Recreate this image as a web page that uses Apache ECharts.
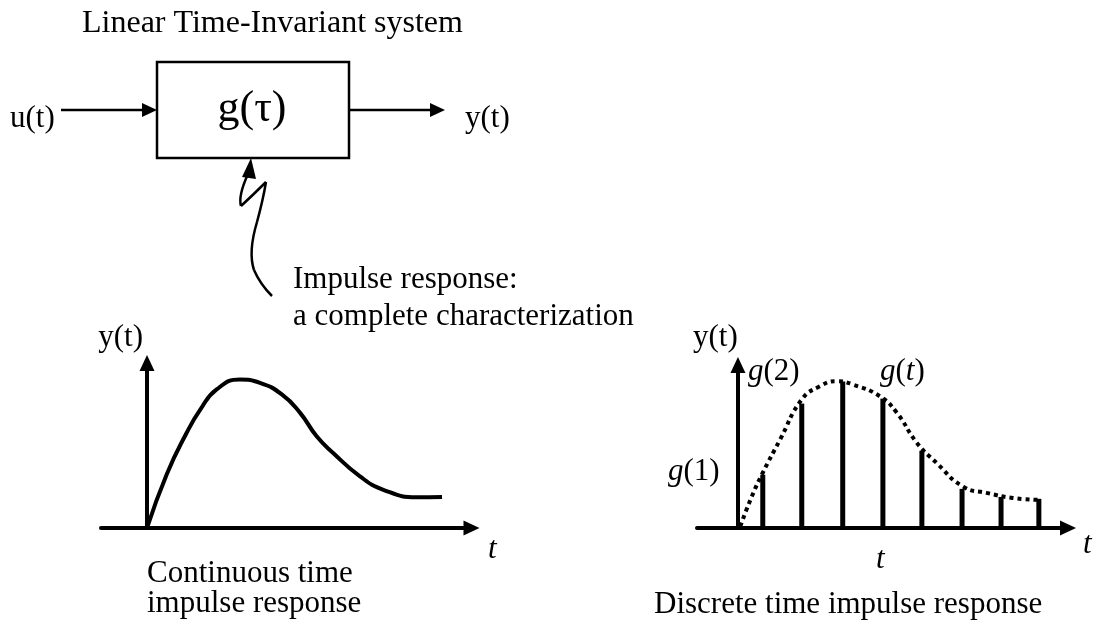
<!DOCTYPE html>
<html>
<head>
<meta charset="utf-8">
<script src="https://cdn.jsdelivr.net/npm/echarts@6/dist/echarts.min.js"></script>
<style>
html,body{margin:0;padding:0;background:#fff;}
#chart{width:1094px;height:628px;}
</style>
</head>
<body>
<div id="chart"></div>
<script>
// Continuous-time impulse response (t, y)
const contT = [0, 0.67, 1.34, 1.8, 2.36, 3.15, 3.83, 4.57, 5.19, 5.75, 6.31, 7.22, 8.01, 9.14, 10];
const contY = [0, 3.1, 5.47, 6.8, 7.98, 8.55, 8.36, 7.69, 6.63, 5.28, 4.32, 2.97, 2.2, 1.77, 1.79];
// Discrete-time impulse response stems
const stemT = [0.63, 1.62, 2.66, 3.68, 4.67, 5.69, 6.68, 7.64];
const stemY = [3.1, 7.25, 8.54, 7.54, 4.5, 2.28, 1.81, 1.7];
// Dotted envelope g(t)
const dotT = [0.06, 0.35, 0.63, 1.07, 1.62, 2.08, 2.5, 2.92, 3.6, 4.03, 4.54, 5.04, 5.71, 6.31, 6.98, 7.64];
const dotY = [0.1, 1.83, 3.22, 5.15, 7.49, 8.26, 8.56, 8.36, 7.68, 6.73, 4.97, 3.8, 2.42, 2.05, 1.75, 1.64];

const FONT = '"Liberation Serif", "Times New Roman", serif';
const BASE = 0.77; // baseline offset from top, in em
const contData = contT.map((t, i) => [t, contY[i]]);
const stemData = stemT.map((t, i) => [t, stemY[i]]);
const dotData = dotT.map((t, i) => [t, dotY[i]]);

function axisLine() {
  return {
    show: true, onZero: true,
    symbol: ['none', 'triangle'], symbolSize: [15, 16],
    lineStyle: { color: '#000', width: 4 }
  };
}
function hidden() {
  return { splitLine: { show: false }, axisTick: { show: false }, axisLabel: { show: false } };
}

// x, baseline y
function txt(x, b, text, size, extra) {
  return {
    type: 'text', x: x, y: b - BASE * size, z: 50,
    style: Object.assign({ text: text, font: size + 'px ' + FONT, fill: '#000', verticalAlign: 'top', align: 'left' }, extra || {})
  };
}
function richTxt(x, b, text) {
  const size = 31;
  return {
    type: 'text', x: x, y: b - BASE * size, z: 50,
    style: {
      text: text, fill: '#000', verticalAlign: 'top', align: 'left',
      font: size + 'px ' + FONT,
      rich: {
        i: { fontFamily: FONT, fontSize: size, fontStyle: 'italic' },
        n: { fontFamily: FONT, fontSize: size }
      }
    }
  };
}
function bez(x1, y1, cx, cy, x2, y2) {
  return { type: 'bezierCurve', shape: { x1: x1, y1: y1, cpx1: cx, cpy1: cy, x2: x2, y2: y2 }, style: { fill: null, stroke: '#000', lineWidth: 2.5 } };
}

const chart = echarts.init(document.getElementById('chart'), null, { renderer: 'canvas' });
chart.setOption({
  backgroundColor: '#fff',
  animation: false,
  grid: [
    { left: 101, top: 363, width: 370.5, height: 165 },
    { left: 697, top: 365, width: 371, height: 163 }
  ],
  xAxis: [
    Object.assign({ type: 'value', gridIndex: 0, min: -1.56, max: 11, axisLine: axisLine() }, hidden()),
    Object.assign({ type: 'value', gridIndex: 1, min: -1.04, max: 8.38, axisLine: axisLine() }, hidden())
  ],
  yAxis: [
    Object.assign({ type: 'value', gridIndex: 0, min: 0, max: 9.5, axisLine: axisLine() }, hidden()),
    Object.assign({ type: 'value', gridIndex: 1, min: 0, max: 9.5, axisLine: axisLine() }, hidden())
  ],
  series: [
    {
      type: 'line', xAxisIndex: 0, yAxisIndex: 0, data: contData,
      smooth: 0.5, showSymbol: false, symbol: 'none',
      lineStyle: { color: '#000', width: 4 }
    },
    {
      type: 'line', xAxisIndex: 1, yAxisIndex: 1, data: dotData,
      smooth: 0.5, showSymbol: false, symbol: 'none',
      lineStyle: { color: '#000', width: 4, type: [4, 4], cap: 'butt' }
    },
    {
      type: 'custom', xAxisIndex: 1, yAxisIndex: 1, data: stemData,
      renderItem: function (params, api) {
        const p0 = api.coord([api.value(0), 0]);
        const p1 = api.coord([api.value(0), api.value(1)]);
        return {
          type: 'rect',
          shape: { x: p0[0] - 2.5, y: p1[1], width: 5, height: p0[1] - p1[1] - 2 },
          style: { fill: '#000' }
        };
      }
    }
  ],
  graphic: [
    txt(82, 32, 'Linear Time-Invariant system', 32),
    // block
    { type: 'rect', shape: { x: 157, y: 62, width: 192, height: 96 }, style: { fill: 'none', stroke: '#000', lineWidth: 2.5 } },
    txt(252, 121, 'g(τ)', 44, { align: 'center' }),
    { type: 'line', shape: { x1: 61, y1: 110, x2: 145, y2: 110 }, style: { stroke: '#000', lineWidth: 2.5 } },
    { type: 'polygon', shape: { points: [[142, 103], [157, 110], [142, 117]] }, style: { fill: '#000' } },
    { type: 'line', shape: { x1: 349, y1: 110, x2: 433, y2: 110 }, style: { stroke: '#000', lineWidth: 2.5 } },
    { type: 'polygon', shape: { points: [[430, 103], [445, 110], [430, 117]] }, style: { fill: '#000' } },
    txt(10, 127, 'u(t)', 31),
    txt(465, 127, 'y(t)', 31),
    // squiggly arrow
    bez(248, 174, 238, 196, 241, 206),
    bez(241, 206, 254, 194, 266, 182),
    bez(266, 182, 263, 200, 257, 222),
    bez(257, 222, 248, 252, 254, 270),
    bez(254, 270, 260, 284, 272, 296),
    { type: 'polygon', shape: { points: [[251, 158], [242, 177], [256, 179]] }, style: { fill: '#000' } },
    txt(293, 288, 'Impulse response:', 31),
    txt(293, 325, 'a complete characterization', 31),
    // left chart labels
    txt(143, 346, 'y(t)', 31, { align: 'right' }),
    txt(488, 558, 't', 31, { font: 'italic 31px ' + FONT }),
    txt(147, 582, 'Continuous time', 31),
    txt(147, 612, 'impulse response', 31),
    // right chart labels
    txt(693, 346, 'y(t)', 31),
    richTxt(748, 380, '{i|g}{n|(2)}'),
    richTxt(880, 380, '{i|g}{n|(}{i|t}{n|)}'),
    richTxt(668, 480, '{i|g}{n|(1)}'),
    txt(876, 568, 't', 31, { font: 'italic 31px ' + FONT }),
    txt(1083, 553, 't', 31, { font: 'italic 31px ' + FONT }),
    txt(654, 613, 'Discrete time impulse response', 31)
  ]
});
</script>
</body>
</html>
